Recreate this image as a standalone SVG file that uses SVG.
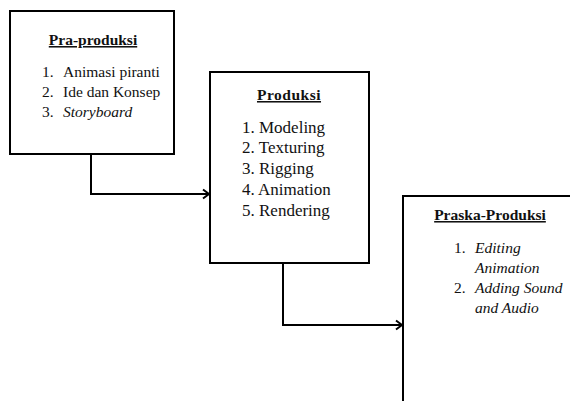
<svg xmlns="http://www.w3.org/2000/svg" width="570" height="401" viewBox="0 0 570 401" font-family="'Liberation Serif', 'Times New Roman', serif">
<defs>
<style>
.box{fill:#fff;stroke:#000;stroke-width:2}
.conn{fill:none;stroke:#000;stroke-width:2}
text{font-family:'Liberation Serif','Times New Roman',serif;fill:#111}
.title{font-weight:bold;font-size:15.5px;text-decoration:underline}
.item{font-size:15.5px}
.item2{font-size:17px}
.it{font-style:italic}
</style>
<marker id="arr" markerWidth="12" markerHeight="12" refX="10" refY="6" orient="auto" markerUnits="userSpaceOnUse">
<path d="M4,1.5 L10,6 L4,10.5" fill="none" stroke="#000" stroke-width="2"/>
</marker>
</defs>
<rect width="570" height="401" fill="#fff"/>
<g id="connectors">
<path class="conn" d="M91,154 V194 H209" marker-end="url(#arr)"/>
<path class="conn" d="M283,263 V325 H402" marker-end="url(#arr)"/>
</g>
<g id="pra-produksi">
<rect class="box" x="10" y="11" width="164" height="143"/>
<text class="title" x="93" y="45" text-anchor="middle">Pra-produksi</text>
<text class="item" x="42" y="77">1.</text><text class="item" x="63" y="77">Animasi piranti</text>
<text class="item" x="42" y="97">2.</text><text class="item" x="63" y="97">Ide dan Konsep</text>
<text class="item" x="42" y="117">3.</text><text class="item it" x="63" y="117">Storyboard</text>
</g>
<g id="produksi">
<rect class="box" x="210" y="72" width="159" height="191"/>
<text class="title" x="289" y="100" text-anchor="middle" letter-spacing="0.5">Produksi</text>
<text class="item2" x="242" y="133">1. Modeling</text>
<text class="item2" x="242" y="153">2. Texturing</text>
<text class="item2" x="242" y="174">3. Rigging</text>
<text class="item2" x="242" y="195">4. Animation</text>
<text class="item2" x="242" y="216">5. Rendering</text>
</g>
<g id="praska-produksi">
<rect class="box" x="403" y="196" width="200" height="240"/>
<text class="title" x="490" y="220" text-anchor="middle">Praska-Produksi</text>
<text class="item" x="454" y="253">1.</text><text class="item it" x="475" y="253">Editing</text>
<text class="item it" x="475" y="273">Animation</text>
<text class="item" x="454" y="293">2.</text><text class="item it" x="475" y="293">Adding Sound</text>
<text class="item it" x="475" y="313">and Audio</text>
</g>
</svg>
